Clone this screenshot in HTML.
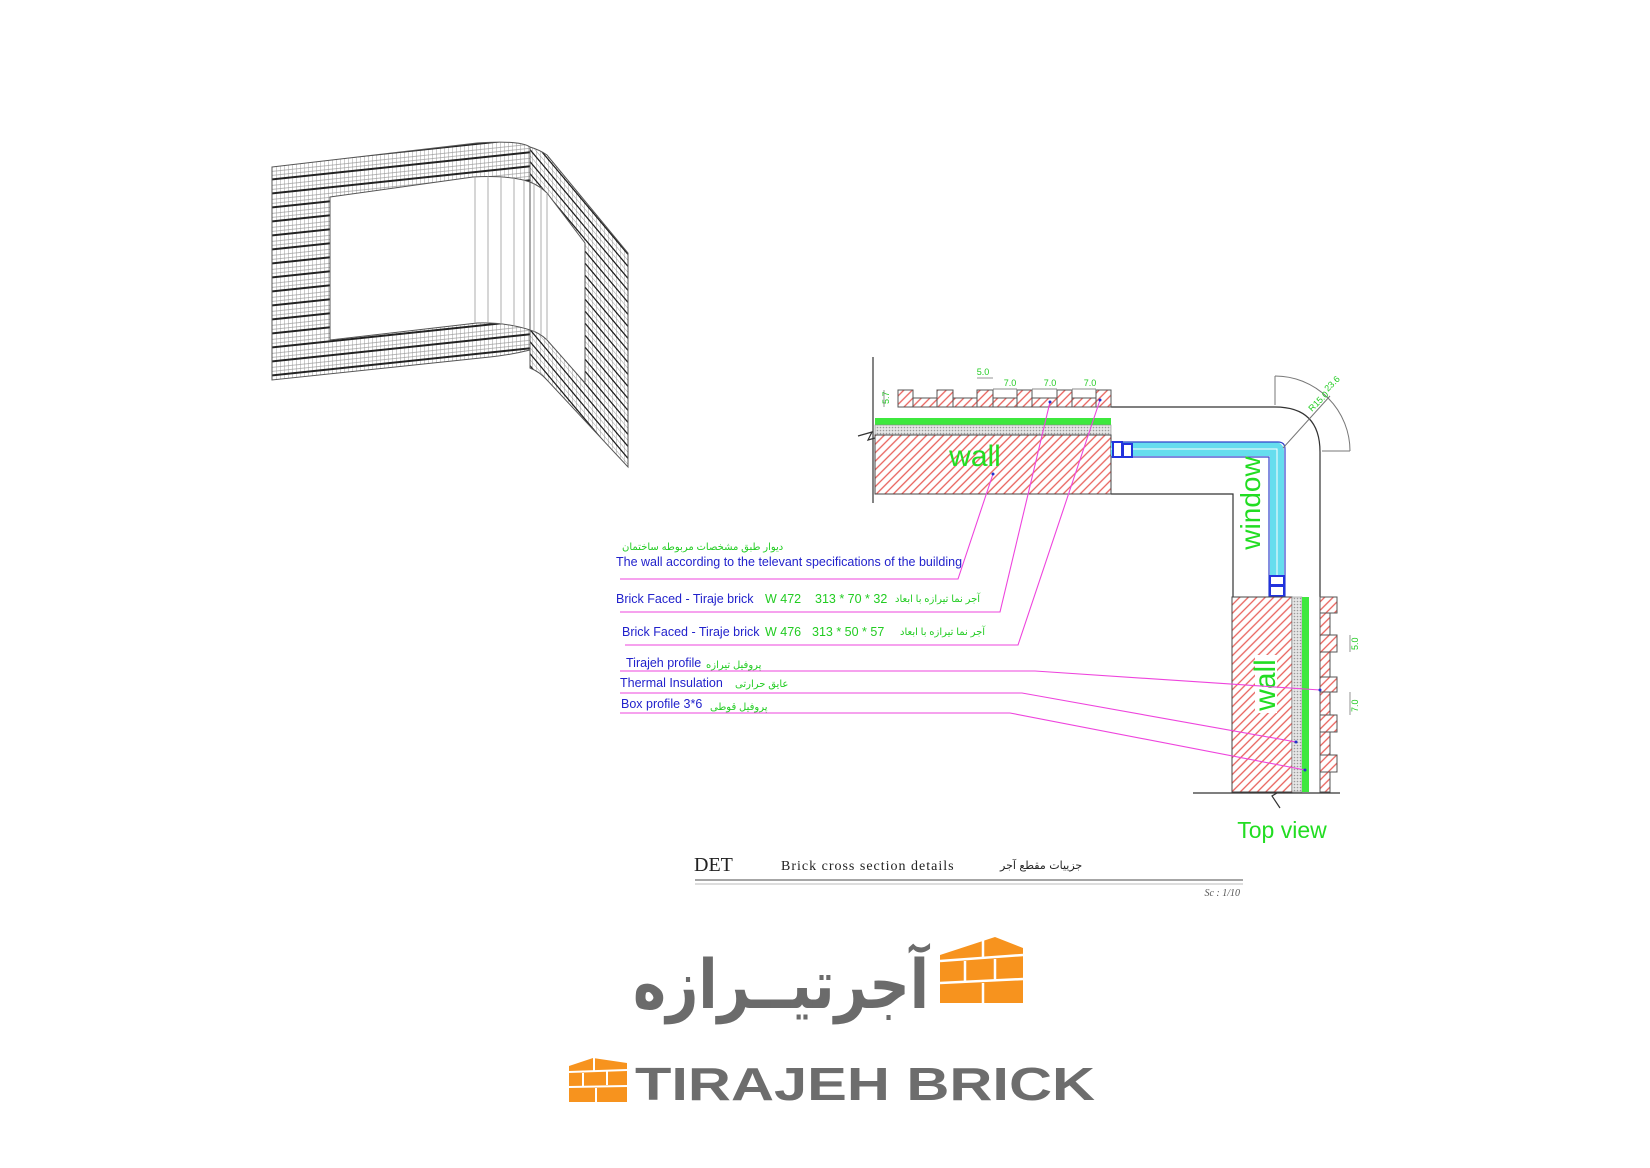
<!DOCTYPE html>
<html><head><meta charset="utf-8"><style>
html,body{margin:0;padding:0;background:#fff;}
svg{display:block;}
</style></head><body>
<svg width="1650" height="1168" viewBox="0 0 1650 1168" xmlns="http://www.w3.org/2000/svg">
<defs>
<pattern id="hatch" width="6" height="6" patternUnits="userSpaceOnUse" patternTransform="rotate(-45)">
<rect width="6" height="6" fill="#fff"/><line x1="0" y1="3" x2="6" y2="3" stroke="#e8605a" stroke-width="1.3"/>
</pattern>
<pattern id="dots" width="3" height="3" patternUnits="userSpaceOnUse">
<rect width="3" height="3" fill="#e6e6e6"/><circle cx="1.5" cy="1.5" r="0.8" fill="#999"/>
</pattern>
<pattern id="gridL" width="4" height="14" patternUnits="userSpaceOnUse" patternTransform="skewY(-6)">
<rect width="4" height="14" fill="#fff"/>
<line x1="0" y1="0" x2="0" y2="14" stroke="#888" stroke-width="0.8"/>
<line x1="0" y1="4" x2="4" y2="4" stroke="#999" stroke-width="0.7"/>
<line x1="0" y1="8" x2="4" y2="8" stroke="#999" stroke-width="0.7"/>
<line x1="0" y1="12" x2="4" y2="12" stroke="#222" stroke-width="2"/>
</pattern>
<pattern id="gridR" width="4" height="12" patternUnits="userSpaceOnUse" patternTransform="skewY(50)">
<rect width="4" height="12" fill="#fff"/>
<line x1="0" y1="0" x2="0" y2="12" stroke="#888" stroke-width="0.8"/>
<line x1="0" y1="4" x2="4" y2="4" stroke="#999" stroke-width="0.7"/>
<line x1="0" y1="10" x2="4" y2="10" stroke="#222" stroke-width="2"/>
</pattern>
</defs>

<!-- 3D wall -->
<path fill-rule="evenodd" fill="url(#gridL)" stroke="#555" stroke-width="1"
 d="M272,167 L477,143 Q520,140 530,147 L530,350 Q510,355 490,357 L272,380 Z
    M330,197 L473,177 Q510,175 530,182 L530,330 Q505,322 477,323 L330,340 Z"/>
<path fill-rule="evenodd" fill="url(#gridR)" stroke="#555" stroke-width="1"
 d="M530,147 Q540,150 547,155 L628,253 L628,467 L547,380 Q540,372 530,368 Z
    M530,182 Q540,186 547,193 L585,243 L585,383 L547,340 Q540,333 530,330 Z"/>
<g stroke="#999" stroke-width="0.8">
<line x1="475" y1="177" x2="475" y2="323"/><line x1="488" y1="176" x2="488" y2="323"/>
<line x1="501" y1="176" x2="501" y2="324"/><line x1="514" y1="177" x2="514" y2="326"/>
<line x1="524" y1="179" x2="524" y2="328"/><line x1="534" y1="183" x2="534" y2="332"/>
<line x1="541" y1="187" x2="541" y2="335"/><line x1="547" y1="193" x2="547" y2="340"/>
</g>

<!-- Detail drawing -->
<g stroke="#333" stroke-width="1.2" fill="none">
<line x1="873" y1="357" x2="873" y2="503"/>
<path d="M1111,407 L1275,407 Q1320,407 1320,452 L1320,597"/>
<path d="M1111,494 L1233,494 L1233,597"/>
<line x1="1193" y1="793" x2="1340" y2="793"/>
</g>
<path d="M858,436 L872,432 L868,440 L882,436" stroke="#333" fill="none" stroke-width="1.2"/>
<path d="M1270,785 L1282,790 L1272,796 L1280,808" stroke="#333" fill="none" stroke-width="1.2"/>

<!-- top bricks -->
<g fill="url(#hatch)" stroke="#555" stroke-width="1">
<rect x="898" y="390" width="15" height="17"/><rect x="913" y="398" width="24" height="9"/>
<rect x="937" y="390" width="16" height="17"/><rect x="953" y="398" width="24" height="9"/>
<rect x="977" y="390" width="16" height="17"/><rect x="993" y="398" width="24" height="9"/>
<rect x="1017" y="390" width="15" height="17"/><rect x="1032" y="398" width="25" height="9"/>
<rect x="1057" y="390" width="15" height="17"/><rect x="1072" y="398" width="24" height="9"/>
<rect x="1096" y="390" width="15" height="17"/>
</g>
<rect x="875" y="418" width="236" height="7" fill="#3ee83e"/>
<rect x="875" y="425" width="236" height="10" fill="url(#dots)" stroke="#888" stroke-width="0.6"/>
<rect x="875" y="435" width="236" height="59" fill="url(#hatch)" stroke="#444" stroke-width="1"/>
<text x="975" y="466" font-family="Liberation Sans, sans-serif" font-size="30" fill="#22dd22" text-anchor="middle">wall</text>
<g font-family="Liberation Sans, sans-serif" font-size="9" fill="#22cc22">
<text x="983" y="375" text-anchor="middle">5.0</text>
<text x="1010" y="386" text-anchor="middle">7.0</text>
<text x="1050" y="386" text-anchor="middle">7.0</text>
<text x="1090" y="386" text-anchor="middle">7.0</text>
<text transform="translate(889,404) rotate(-90)">5.7</text>
</g>
<g stroke="#666" stroke-width="0.7">
<line x1="977" y1="378" x2="993" y2="378"/><line x1="993" y1="389" x2="1017" y2="389"/>
<line x1="1032" y1="389" x2="1057" y2="389"/><line x1="1072" y1="389" x2="1096" y2="389"/>
<line x1="884" y1="390" x2="884" y2="407"/>
</g>

<!-- window -->
<path d="M1111,449 L1275,449 Q1277,449 1277,451 L1277,597" stroke="#66ddee" stroke-width="14" fill="none"/>
<path d="M1111,442 L1278,442 Q1285,442 1285,449 L1285,597 M1111,457 L1269,457 L1269,597" stroke="#3344cc" stroke-width="1.2" fill="none"/>
<path d="M1111,449 L1277,449 L1277,597" stroke="#fff" stroke-width="1" fill="none"/>
<rect x="1113" y="442" width="9" height="15" fill="#fff" stroke="#2233dd" stroke-width="2"/>
<rect x="1123" y="444" width="9" height="13" fill="#fff" stroke="#2233dd" stroke-width="2"/>
<rect x="1270" y="576" width="14" height="9" fill="#fff" stroke="#2233dd" stroke-width="2"/>
<rect x="1270" y="586" width="14" height="10" fill="#fff" stroke="#2233dd" stroke-width="2"/>
<text transform="translate(1260,503) rotate(-90)" font-family="Liberation Sans, sans-serif" font-size="28" fill="#22dd22" text-anchor="middle">window</text>

<!-- radial dim -->
<g stroke="#777" stroke-width="1" fill="none">
<path d="M1275,376 A75,75 0 0 1 1350,451"/>
<line x1="1275" y1="376" x2="1275" y2="405"/>
<line x1="1322" y1="451" x2="1350" y2="451"/>
<line x1="1283" y1="448" x2="1330" y2="396"/>
</g>
<g font-family="Liberation Sans, sans-serif" font-size="9" fill="#22cc22">
<text transform="translate(1312,412) rotate(-45)">R15.0</text>
<text transform="translate(1328,392) rotate(-45)">23.6</text>
</g>

<!-- lower wall -->
<rect x="1232" y="597" width="60" height="195" fill="url(#hatch)" stroke="#444" stroke-width="1"/>
<rect x="1255" y="655" width="22" height="58" fill="#fff"/>
<text transform="translate(1275,685) rotate(-90)" font-family="Liberation Sans, sans-serif" font-size="30" fill="#22dd22" text-anchor="middle">wall</text>
<rect x="1292" y="597" width="10" height="195" fill="url(#dots)" stroke="#888" stroke-width="0.6"/>
<rect x="1302" y="597" width="7" height="195" fill="#3ee83e"/>
<g fill="url(#hatch)" stroke="#555" stroke-width="1">
<rect x="1320" y="597" width="17" height="16"/><rect x="1320" y="613" width="10" height="22"/>
<rect x="1320" y="635" width="17" height="17"/><rect x="1320" y="652" width="10" height="25"/>
<rect x="1320" y="677" width="17" height="15"/><rect x="1320" y="692" width="10" height="23"/>
<rect x="1320" y="715" width="17" height="17"/><rect x="1320" y="732" width="10" height="23"/>
<rect x="1320" y="755" width="17" height="17"/><rect x="1320" y="772" width="10" height="20"/>
</g>
<g stroke="#666" stroke-width="0.7">
<line x1="1350" y1="635" x2="1350" y2="652"/><line x1="1350" y1="692" x2="1350" y2="715"/>
</g>
<g font-family="Liberation Sans, sans-serif" font-size="9" fill="#22cc22">
<text transform="translate(1358,650) rotate(-90)">5.0</text>
<text transform="translate(1358,712) rotate(-90)">7.0</text>
</g>
<text x="1282" y="838" font-family="Liberation Sans, sans-serif" font-size="23" fill="#22dd22" text-anchor="middle">Top view</text>

<!-- leaders -->
<g stroke="#ee44dd" stroke-width="1.1" fill="none">
<polyline points="620,579 958,579 993,474"/>
<polyline points="620,612 1000,612 1050,402"/>
<polyline points="625,645 1018,645 1100,400"/>
<polyline points="620,671 1035,671 1320,690"/>
<polyline points="620,693 1022,693 1296,742"/>
<polyline points="620,713 1010,713 1305,770"/>
</g>
<g fill="#2233cc">
<circle cx="993" cy="474" r="1.5"/><circle cx="1050" cy="402" r="1.5"/><circle cx="1100" cy="400" r="1.5"/>
<circle cx="1320" cy="690" r="1.5"/><circle cx="1296" cy="742" r="1.5"/><circle cx="1305" cy="770" r="1.5"/>
</g>

<!-- label texts -->
<g font-family="Liberation Sans, DejaVu Sans, sans-serif" font-size="12.5">
<text x="622" y="550" fill="#22cc22" font-size="10">ديوار طبق مشخصات مربوطه ساختمان</text>
<text x="616" y="566" fill="#2222cc">The wall according to the televant specifications of the building</text>
<text x="616" y="603" fill="#2222cc">Brick Faced - Tiraje brick</text>
<text x="765" y="603" fill="#22cc22">W 472</text>
<text x="815" y="603" fill="#22cc22">313 * 70 * 32</text>
<text x="895" y="602" fill="#22cc22" font-size="10">آجر نما تيرازه با ابعاد</text>
<text x="622" y="636" fill="#2222cc">Brick Faced - Tiraje brick</text>
<text x="765" y="636" fill="#22cc22">W 476</text>
<text x="812" y="636" fill="#22cc22">313 * 50 * 57</text>
<text x="900" y="635" fill="#22cc22" font-size="10">آجر نما تيرازه با ابعاد</text>
<text x="626" y="667" fill="#2222cc">Tirajeh profile</text>
<text x="706" y="668" fill="#22cc22" font-size="10">پروفيل تيرازه</text>
<text x="620" y="687" fill="#2222cc">Thermal Insulation</text>
<text x="735" y="687" fill="#22cc22" font-size="10">عايق حرارتى</text>
<text x="621" y="708" fill="#2222cc">Box profile 3*6</text>
<text x="710" y="710" fill="#22cc22" font-size="10">پروفيل قوطى</text>
</g>

<!-- title block -->
<text x="694" y="871" font-family="Liberation Serif, serif" font-size="20" fill="#222">DET</text>
<text x="781" y="870" font-family="Liberation Serif, serif" font-size="14" fill="#222" letter-spacing="1">Brick  cross  section  details</text>
<text x="1000" y="869" font-family="DejaVu Sans, sans-serif" font-size="11" fill="#222">جزييات مقطع آجر</text>
<line x1="695" y1="880" x2="1243" y2="880" stroke="#888" stroke-width="1.5"/>
<line x1="695" y1="884" x2="1243" y2="884" stroke="#bbb" stroke-width="1"/>
<text x="1240" y="896" font-family="Liberation Serif, serif" font-style="italic" font-size="10" fill="#555" text-anchor="end">Sc : 1/10</text>

<!-- Persian logo -->
<text x="633" y="1008" font-family="DejaVu Sans, sans-serif" font-weight="bold" font-size="68" fill="#6b6b6b" textLength="296" lengthAdjust="spacingAndGlyphs">آجرتيــرازه</text>
<g>
<polygon points="940,955 995,937 1023,948 1023,1003 940,1003" fill="#f7931e"/>
<g stroke="#fff" stroke-width="2.5" fill="none">
<line x1="940" y1="961" x2="1023" y2="955"/>
<line x1="940" y1="983" x2="1023" y2="979"/>
<line x1="983" y1="937" x2="983" y2="958"/>
<line x1="965" y1="961" x2="965" y2="982"/>
<line x1="995" y1="959" x2="995" y2="980"/>
<line x1="983" y1="983" x2="983" y2="1003"/>
</g>
</g>

<!-- English logo -->
<g>
<polygon points="569,1066 593,1058 627,1063 627,1102 569,1102" fill="#f7931e"/>
<g stroke="#fff" stroke-width="2" fill="none">
<line x1="569" y1="1072" x2="627" y2="1070"/>
<line x1="569" y1="1087" x2="627" y2="1086"/>
<line x1="594" y1="1058" x2="594" y2="1071"/>
<line x1="583" y1="1073" x2="583" y2="1086"/>
<line x1="607" y1="1071" x2="607" y2="1085"/>
<line x1="596" y1="1088" x2="596" y2="1102"/>
</g>
</g>
<text x="635" y="1100" font-family="Liberation Sans, sans-serif" font-weight="bold" font-size="46" fill="#6d6d6d" textLength="460" lengthAdjust="spacingAndGlyphs">TIRAJEH BRICK</text>
</svg>
</body></html>
